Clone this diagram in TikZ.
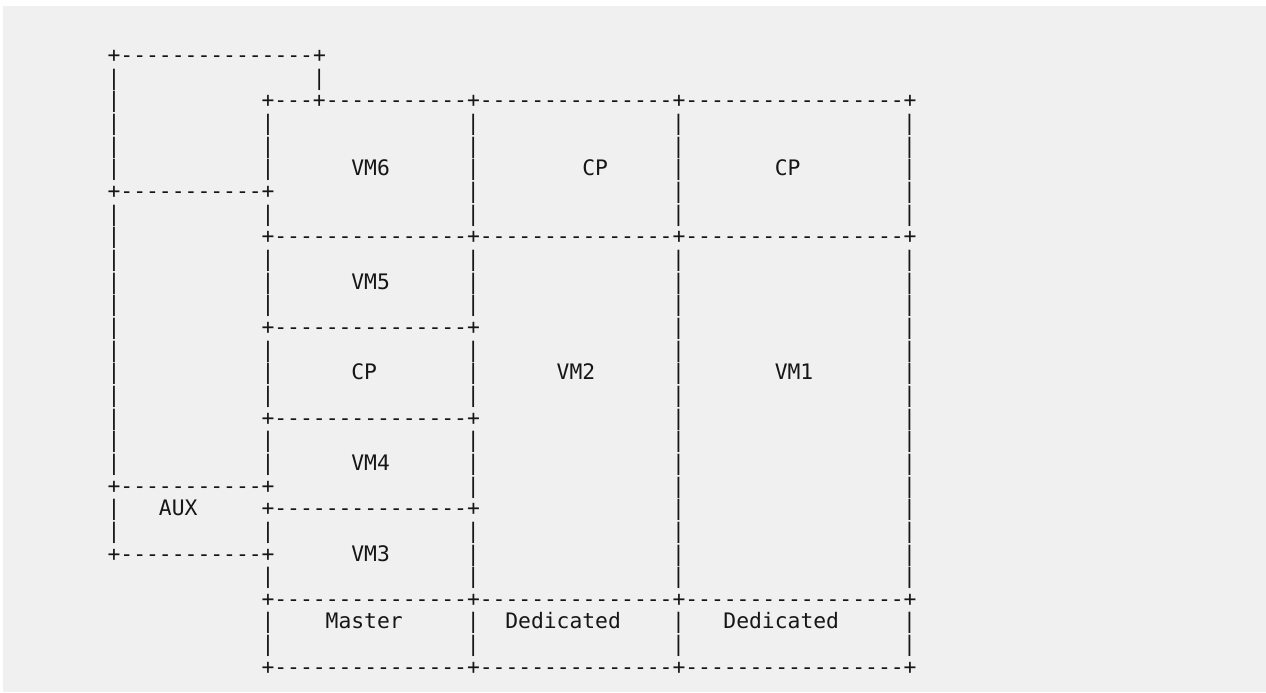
\documentclass[tikz,border=0pt]{standalone}
\usepackage{fontspec}
\newfontfamily\asciimono{DejaVu Sans Mono}
\definecolor{bgpanel}{RGB}{240,240,240}
\definecolor{ink}{RGB}{22,22,22}
\tikzset{
  ch/.style={anchor=base west, inner sep=0pt, outer sep=0pt, text=ink,
             font=\asciimono\fontsize{16}{17}\selectfont},
}
% row, column, text  -> node named r<row>c<col>
\newcommand\R[3]{\node[ch] (r#1c#2) at ({107.6+12.83*#2},{62.7+22.65*#1}) {#3};}
\newcommand\Bars[2]{\foreach \cc in {#2} {\R{#1}{\cc}{|}}}
\begin{document}
\begin{tikzpicture}[x=0.75pt,y=-0.75pt]
\useasboundingbox (0,0) rectangle (1266,692);
\fill[white] (0,0) rectangle (1266,692);
\fill[bgpanel] (3,6) rectangle (1266,692);
% row 0-1
\R{0}{0}{+---------------+}
\Bars{1}{0,16}
% row 2
\R{2}{0}{|}
\R{2}{12}{+---+-----------+---------------+-----------------+}
\Bars{3}{0,12,28,44,62}
\Bars{4}{0,12,28,44,62}
\Bars{5}{0,12,28,44,62}
\R{5}{19}{VM6}
\R{5}{37}{CP}
\R{5}{52}{CP}
% row 6
\R{6}{0}{+-----------+}
\Bars{6}{28,44,62}
\Bars{7}{0,12,28,44,62}
% row 8
\R{8}{0}{|}
\R{8}{12}{+---------------+---------------+-----------------+}
\Bars{9}{0,12,28,44,62}
\Bars{10}{0,12,28,44,62}
\R{10}{19}{VM5}
\Bars{11}{0,12,28,44,62}
% row 12
\Bars{12}{0,44,62}
\R{12}{12}{+---------------+}
\Bars{13}{0,12,28,44,62}
\Bars{14}{0,12,28,44,62}
\R{14}{19}{CP}
\R{14}{35}{VM2}
\R{14}{52}{VM1}
\Bars{15}{0,12,28,44,62}
% row 16
\Bars{16}{0,44,62}
\R{16}{12}{+---------------+}
\Bars{17}{0,12,28,44,62}
\Bars{18}{0,12,28,44,62}
\R{18}{19}{VM4}
% row 19
\R{19}{0}{+-----------+}
\Bars{19}{28,44,62}
% row 20
\Bars{20}{0,44,62}
\R{20}{4}{AUX}
\R{20}{12}{+---------------+}
\Bars{21}{0,12,28,44,62}
% row 22
\R{22}{0}{+-----------+}
\R{22}{19}{VM3}
\Bars{22}{28,44,62}
\Bars{23}{12,28,44,62}
% row 24
\R{24}{12}{+---------------+---------------+-----------------+}
\Bars{25}{12,28,44,62}
\R{25}{17}{Master}
\R{25}{31}{Dedicated}
\R{25}{48}{Dedicated}
\Bars{26}{12,28,44,62}
\R{27}{12}{+---------------+---------------+-----------------+}
\end{tikzpicture}
\end{document}
